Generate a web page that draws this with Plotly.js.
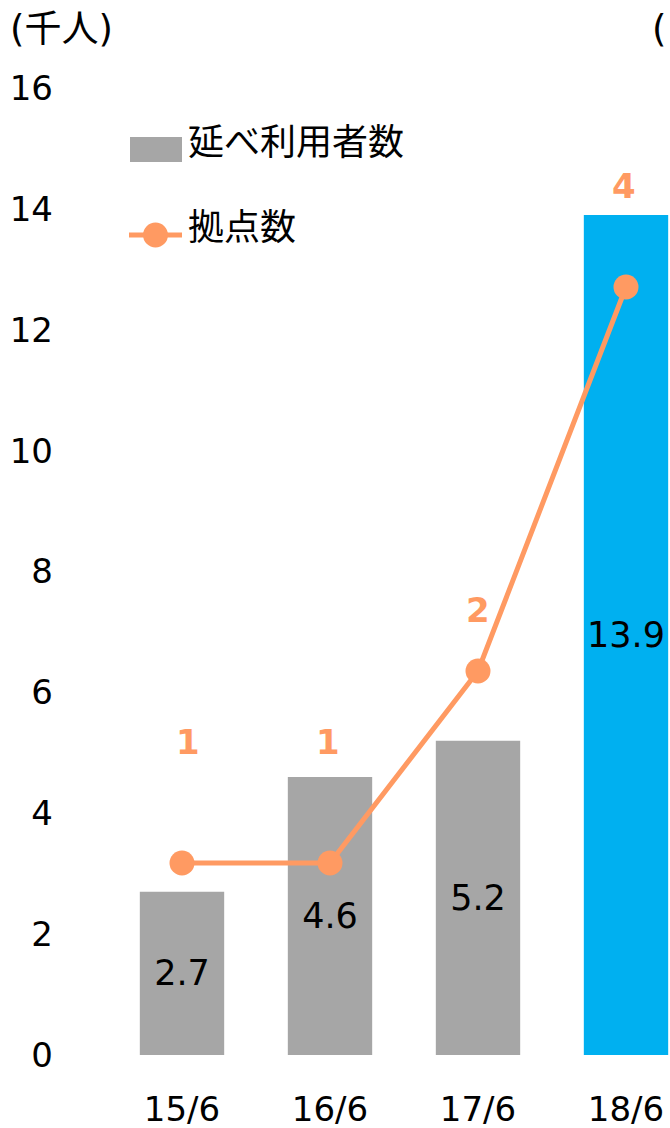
<!DOCTYPE html>
<html><head><meta charset="utf-8">
<script src="https://cdn.plot.ly/plotly-3.0.1.min.js"></script>
<style>html,body{margin:0;padding:0;background:#fff;overflow:hidden;}#chart{width:670px;height:1128px;}</style>
</head><body><div id="chart"></div>
<script>
// ---- data ----
const periods = ['15/6', '16/6', '17/6', '18/6'];
const users = [2.7, 4.6, 5.2, 13.9];          // 延べ利用者数 (千人)
const sites = [1, 1, 2, 4];                   // 拠点数
const userLabels = ['2.7', '4.6', '5.2', '13.9'];
const siteLabels = ['1', '1', '2', '4'];
const yTicks = [0, 2, 4, 6, 8, 10, 12, 14, 16];

// ---- layout geometry ----
const W = 670, H = 1128;
const M = {l: 62, r: 0, t: 88, b: 73};
const PW = W - M.l - M.r, PH = H - M.t - M.b;
const px = x => (x - M.l) / PW;
const py = y => (H - M.b - y) / PH;

const FONT = 'DejaVu Sans, Noto Sans CJK JP, sans-serif';
const GRAY = '#A6A6A6', BLUE = '#00B0F0', ORANGE = '#FF9A62';

const barColors = periods.map((p, i) => i === periods.length - 1 ? BLUE : GRAY);

const traces = [
  {
    type: 'bar', x: periods, y: users, name: '延べ利用者数',
    marker: {color: barColors}, width: 0.57,
    text: userLabels, textposition: 'inside', insidetextanchor: 'middle',
    textfont: {family: FONT, size: 35, color: '#000'}, constraintext: 'none',
    hoverinfo: 'x+y'
  },
  {
    type: 'scatter', mode: 'lines+markers', x: periods, y: sites, name: '拠点数',
    yaxis: 'y2', line: {color: ORANGE, width: 5},
    marker: {color: ORANGE, size: 25}, cliponaxis: false
  }
];

const labelShiftY = [121, 121, 61, 101];
const labelShiftX = [6, -2, 0, -2];
const annotations = siteLabels.map((t, i) => ({
  x: periods[i], y: sites[i], xref: 'x', yref: 'y2',
  yshift: labelShiftY[i], xshift: labelShiftX[i],
  text: '<b>' + t + '</b>', showarrow: false,
  font: {family: FONT, size: 34, color: ORANGE}
}));
annotations.push(
  {xref: 'paper', yref: 'paper', x: px(8), y: py(30), xanchor: 'left', yanchor: 'middle',
   text: '(千人)', showarrow: false, font: {family: FONT, size: 37, color: '#000'}},
  {xref: 'paper', yref: 'paper', x: px(667), y: py(30), xanchor: 'right', yanchor: 'middle',
   borderpad: 0, text: '(', showarrow: false, font: {family: FONT, size: 37, color: '#000'}},
  {xref: 'paper', yref: 'paper', x: px(186), y: py(143), xanchor: 'left', yanchor: 'middle',
   text: '延べ利用者数', showarrow: false, font: {family: FONT, size: 36, color: '#000'}},
  {xref: 'paper', yref: 'paper', x: px(186), y: py(228), xanchor: 'left', yanchor: 'middle',
   text: '拠点数', showarrow: false, font: {family: FONT, size: 36, color: '#000'}}
);

const shapes = [
  {type: 'rect', xref: 'paper', yref: 'paper', x0: px(130), x1: px(182), y0: py(162), y1: py(137),
   fillcolor: GRAY, line: {width: 0}},
  {type: 'line', xref: 'paper', yref: 'paper', x0: px(129), x1: px(182), y0: py(235), y1: py(235),
   line: {color: ORANGE, width: 5}},
  {type: 'circle', xref: 'paper', yref: 'paper', x0: px(143), x1: px(168), y0: py(247.5), y1: py(222.5),
   fillcolor: ORANGE, line: {width: 0}}
];

const r0 = -120 / 148;
const layout = {
  width: W, height: H, margin: M,
  paper_bgcolor: '#fff', plot_bgcolor: '#fff',
  showlegend: false,
  font: {family: FONT, size: 34, color: '#000'},
  xaxis: {
    type: 'category', range: [r0, r0 + PW / 148], showgrid: false, zeroline: false,
    showline: false, ticks: '', ticklabelstandoff: 31,
    tickfont: {family: FONT, size: 34, color: '#000'}
  },
  yaxis: {
    range: [0, 16], tickvals: yTicks, showgrid: false, zeroline: false, showline: false,
    ticks: '', ticklabelstandoff: 8, tickfont: {family: FONT, size: 34, color: '#000'}
  },
  yaxis2: {
    overlaying: 'y', side: 'right', range: [0, PH / 192], visible: false,
    showgrid: false, zeroline: false
  },
  annotations: annotations,
  shapes: shapes,
  bargap: 0.43
};

Plotly.newPlot('chart', traces, layout, {displayModeBar: false, staticPlot: true});
</script></body></html>
